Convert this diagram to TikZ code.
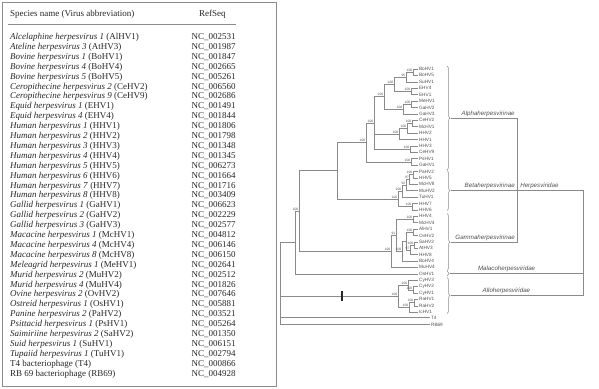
\documentclass[tikz,border=0pt]{standalone}
\usepackage{fontspec}
\setmainfont{Liberation Serif}
\setsansfont{Liberation Sans}
\usetikzlibrary{decorations.pathreplacing}
\definecolor{treegray}{HTML}{8A8A8A}
\definecolor{leafgray}{HTML}{505050}
\definecolor{boxgray}{HTML}{8C8C8C}
\definecolor{tabtext}{HTML}{262626}
\newcommand\leafnode[3]{\coordinate (#1) at (#2,#3); \node[leaf] (L#1) at (#1) {#1};}
\begin{document}
\begin{tikzpicture}[x=1pt,y=-1pt,
  tl/.style={draw=treegray, line width=0.6pt},
  leaf/.style={font=\sffamily\fontsize{4.7}{5}\selectfont, text=leafgray, anchor=west, inner sep=0.9pt},
  bs/.style={font=\sffamily\fontsize{3.3}{3.5}\selectfont, text=leafgray, anchor=south east, inner sep=0.3pt},
  tab/.style={font=\fontsize{9}{9.5}\selectfont, text=tabtext, anchor=base west, inner sep=0pt},
  clade/.style={font=\sffamily\itshape\fontsize{6.2}{7}\selectfont, text=leafgray, inner sep=0.6pt},
  cl/.style={draw=treegray, line width=0.7pt},
  bracestyle/.style={draw=treegray, line width=0.5pt, decorate, decoration={brace, amplitude=3pt}}]
\useasboundingbox (0,0) rectangle (599,388);
% ---------------- table ----------------
\draw[boxgray, line width=0.9pt] (2.5,2.5) rectangle (276.5,386);
\node[tab] (hname) at (10,16.5) {Species name (Virus abbreviation)};
\node[tab] (hrefseq) at (199,16.5) {RefSeq};
\draw[boxgray, line width=0.6pt] (8,24) -- (236,24);
\foreach \nm/\ab/\nc [count=\i from 0] in {
 Alcelaphine herpesvirus 1/AlHV1/002531,
 Ateline herpesvirus 3/AtHV3/001987,
 Bovine herpesvirus 1/BoHV1/001847,
 Bovine herpesvirus 4/BoHV4/002665,
 Bovine herpesvirus 5/BoHV5/005261,
 Ceropithecine herpesvirus 2/CeHV2/006560,
 Ceropithecine herpesvirus 9/CeHV9/002686,
 Equid herpesvirus 1/EHV1/001491,
 Equid herpesvirus 4/EHV4/001844,
 Human herpesvirus 1/HHV1/001806,
 Human herpesvirus 2/HHV2/001798,
 Human herpesvirus 3/HHV3/001348,
 Human herpesvirus 4/HHV4/001345,
 Human herpesvirus 5/HHV5/006273,
 Human herpesvirus 6/HHV6/001664,
 Human herpesvirus 7/HHV7/001716,
 Human herpesvirus 8/HHV8/003409,
 Gallid herpesvirus 1/GaHV1/006623,
 Gallid herpesvirus 2/GaHV2/002229,
 Gallid herpesvirus 3/GaHV3/002577,
 Macacine herpesvirus 1/McHV1/004812,
 Macacine herpesvirus 4/McHV4/006146,
 Macacine herpesvirus 8/McHV8/006150,
 Meleagrid herpesvirus 1/MeHV1/002641,
 Murid herpesvirus 2/MuHV2/002512,
 Murid herpesvirus 4/MuHV4/001826,
 Ovine herpesvirus 2/OvHV2/007646,
 Ostreid herpesvirus 1/OsHV1/005881,
 Panine herpesvirus 2/PaHV2/003521,
 Psittacid herpesvirus 1/PsHV1/005264,
 Saimiriine herpesvirus 2/SaHV2/001350,
 Suid herpesvirus 1/SuHV1/006151,
 Tupaiid herpesvirus 1/TuHV1/002794}
{
  \node[tab] (row\i) at (10,{39.5+9.9*\i}) {\textit{\nm} (\ab)};
  \node[tab] (nc\i) at (191.5,{39.5+9.9*\i}) {NC\_\nc};
}
\node[tab] (row33) at (10,{39.5+9.9*33}) {T4 bacteriophage (T4)};
\node[tab] (nc33) at (191.5,{39.5+9.9*33}) {NC\_000866};
\node[tab] (row34) at (10,{39.5+9.9*34}) {RB 69 bacteriophage (RB69)};
\node[tab] (nc34) at (191.5,{39.5+9.9*34}) {NC\_004928};
% ---------------- tree leaves ----------------
\leafnode{BoHV1}{418}{69.0}
\leafnode{BoHV5}{418}{75.4}
\leafnode{SuHV1}{418}{81.8}
\leafnode{EHV4}{418}{88.2}
\leafnode{EHV1}{418}{94.6}
\leafnode{MeHV1}{418}{101.0}
\leafnode{GaHV2}{418}{107.4}
\leafnode{GaHV3}{418}{113.8}
\leafnode{CeHV2}{418}{120.2}
\leafnode{McHV1}{418}{126.6}
\leafnode{HHV2}{418}{133.0}
\leafnode{HHV1}{418}{139.4}
\leafnode{HHV3}{418}{145.8}
\leafnode{CeHV9}{418}{152.2}
\leafnode{PsHV1}{418}{158.6}
\leafnode{GaHV1}{418}{165.0}
\leafnode{PaHV2}{418}{171.4}
\leafnode{HHV5}{418}{177.8}
\leafnode{McHV8}{418}{184.2}
\leafnode{MuHV2}{418}{190.6}
\leafnode{TuHV1}{418}{197.0}
\leafnode{HHV7}{418}{203.4}
\leafnode{HHV6}{418}{209.8}
\leafnode{HHV4}{418}{216.2}
\leafnode{McHV4}{418}{222.6}
\leafnode{AlHV1}{418}{229.0}
\leafnode{OvHV2}{418}{235.4}
\leafnode{SaHV2}{418}{241.8}
\leafnode{AtHV3}{418}{248.2}
\leafnode{HHV8}{418}{254.6}
\leafnode{BoHV4}{418}{261.0}
\leafnode{MuHV4}{418}{267.4}
\leafnode{OsHV1}{418}{273.8}
\leafnode{CyHV3}{418}{280.2}
\leafnode{CyHV2}{418}{286.6}
\leafnode{CyHV1}{418}{293.0}
\leafnode{RaHV1}{418}{299.4}
\leafnode{RaHV2}{418}{305.8}
\leafnode{IcHV1}{418}{312.2}
\leafnode{T4}{430}{317.5}
\leafnode{RB69}{430}{324.5}
% ---------------- internal nodes ----------------
\coordinate (nBo15) at (413,72.2);
\coordinate (nBoSu) at (406,77.0);
\coordinate (nEHV) at (411,91.4);
\coordinate (nVar) at (394,84.2);
\coordinate (nMeGa2) at (411,104.2);
\coordinate (nMar) at (403,109.0);
\coordinate (nTop) at (384,96.6);
\coordinate (nCeMc) at (412,123.4);
\coordinate (nSim2) at (407,128.2);
\coordinate (nSim) at (399,133.8);
\coordinate (nVZV) at (410,149.0);
\coordinate (nA374) at (374,122.8);
\coordinate (nIlt) at (411,161.8);
\coordinate (nAlpha) at (366,142.3);
\coordinate (nPaH5) at (413,174.6);
\coordinate (nMc8) at (409.5,179.4);
\coordinate (nMu2) at (406,185.0);
\coordinate (nTu) at (402,191.0);
\coordinate (nRos) at (412,206.6);
\coordinate (nBeta) at (398,198.8);
\coordinate (nAB) at (337,170.55);
\coordinate (nH4Mc4) at (413,219.4);
\coordinate (nAlOv) at (413,232.2);
\coordinate (nSaAt) at (414,245.0);
\coordinate (nZ2) at (410,249.8);
\coordinate (nY) at (406,241.0);
\coordinate (nX) at (402,251.0);
\coordinate (nG1) at (396,235.2);
\coordinate (nGamma) at (391,251.3);
\coordinate (nABG) at (299,210.9);
\coordinate (nHerp) at (295,242.35);
\coordinate (nCy21) at (413,289.8);
\coordinate (nCy) at (408,285.0);
\coordinate (nRa) at (414,302.6);
\coordinate (nRaIc) at (409,307.4);
\coordinate (nAllo) at (398,296.2);
\coordinate (nRoot) at (280,283);
% ---------------- edges ----------------
\foreach \p/\c in {nBo15/BoHV1, nBo15/BoHV5, nBoSu/nBo15, nBoSu/SuHV1,
  nEHV/EHV4, nEHV/EHV1, nVar/nBoSu, nVar/nEHV,
  nMeGa2/MeHV1, nMeGa2/GaHV2, nMar/nMeGa2, nMar/GaHV3, nTop/nVar, nTop/nMar,
  nCeMc/CeHV2, nCeMc/McHV1, nSim2/nCeMc, nSim2/HHV2, nSim/nSim2, nSim/HHV1,
  nVZV/HHV3, nVZV/CeHV9, nA374/nTop, nA374/nSim, nA374/nVZV,
  nIlt/PsHV1, nIlt/GaHV1, nAlpha/nA374, nAlpha/nIlt,
  nPaH5/PaHV2, nPaH5/HHV5, nMc8/nPaH5, nMc8/McHV8, nMu2/nMc8, nMu2/MuHV2,
  nTu/nMu2, nTu/TuHV1, nRos/HHV7, nRos/HHV6, nBeta/nTu, nBeta/nRos,
  nAB/nAlpha, nAB/nBeta,
  nH4Mc4/HHV4, nH4Mc4/McHV4, nAlOv/AlHV1, nAlOv/OvHV2, nSaAt/SaHV2, nSaAt/AtHV3,
  nZ2/nSaAt, nZ2/HHV8, nY/nAlOv, nY/nZ2, nX/nY, nX/BoHV4, nG1/nH4Mc4, nG1/nX,
  nGamma/nG1, nGamma/MuHV4, nABG/nAB, nABG/nGamma, nHerp/nABG, nHerp/OsHV1,
  nCy21/CyHV2, nCy21/CyHV1, nCy/CyHV3, nCy/nCy21, nRa/RaHV1, nRa/RaHV2,
  nRaIc/nRa, nRaIc/IcHV1, nAllo/nCy, nAllo/nRaIc,
  nRoot/nHerp, nRoot/nAllo, nRoot/T4, nRoot/RB69}
  {\draw[tl] (\p) |- (\c);}
% break mark on the Alloherpesviridae stem
\coordinate (brkA) at (341.7,291.3);
\coordinate (brkB) at (341.7,301.1);
\draw[line width=1.9pt, black!85] (brkA) -- (brkB);
% ---------------- bootstrap values ----------------
\foreach \n/\v in {nBo15/100, nBoSu/95, nEHV/100, nVar/100, nMeGa2/100, nMar/100,
  nTop/100, nCeMc/100, nSim2/100, nSim/100, nVZV/100, nA374/100, nIlt/100, nAlpha/100,
  nPaH5/100, nMc8/97, nMu2/92, nTu/100, nRos/100, nBeta/100,
  nH4Mc4/100, nAlOv/100, nSaAt/100, nZ2/97, nX/100, nG1/91, nGamma/100, nABG/100,
  nCy21/100, nCy/100, nRa/100, nRaIc/100, nAllo/100}
  {\node[bs] (b\n) at ([xshift=-0.3pt,yshift=0.2pt]\n) {\v};}
% ---------------- clade braces ----------------
\coordinate (brA1) at (447,66);   \coordinate (brA2) at (447,170);
\coordinate (brB1) at (447,170.5); \coordinate (brB2) at (447,210.5);
\coordinate (brG1) at (447,213.5); \coordinate (brG2) at (447,270.5);
\coordinate (brM1) at (447,270.8); \coordinate (brM2) at (447,276.2);
\coordinate (brL1) at (447,277.5); \coordinate (brL2) at (447,313.5);
\draw[bracestyle] (brA1) -- (brA2);
\draw[bracestyle] (brB1) -- (brB2);
\draw[bracestyle] (brG1) -- (brG2);
\draw[bracestyle, decoration={brace, amplitude=2pt}] (brM1) -- (brM2);
\draw[bracestyle] (brL1) -- (brL2);
\coordinate (tA) at (451,118);
\coordinate (tB) at (451,190.5);
\coordinate (tG) at (451,242);
\coordinate (tM) at (450,273.5);
\coordinate (tL) at (451,295.5);
\coordinate (jA) at (517,118);
\coordinate (jG) at (517,242);
\coordinate (jB) at (583,190.5);
\coordinate (jM) at (583,273.5);
\coordinate (jL) at (583,295.5);
\draw[cl] (tA) -- (jA) -- (jG) -- (tG);
\draw[cl] (tB) -- (jB) -- (jL) -- (tL);
\draw[cl] (tM) -- (jM);
\node[clade, anchor=south east] (labA) at (515.5,117.5) {Alphaherpesvirinae};
\node[clade, anchor=south east] (labB) at (515.5,190) {Betaherpesvirinae};
\node[clade, anchor=south west] (labH) at (519.5,190) {Herpesviridae};
\node[clade, anchor=south east] (labG) at (515.5,241.5) {Gammaherpesvirinae};
\node[clade, anchor=south east] (labM) at (536,273) {Malacoherpesviridae};
\node[clade, anchor=south east] (labL) at (531,295) {Alloherpesviridae};
\end{tikzpicture}
\end{document}
